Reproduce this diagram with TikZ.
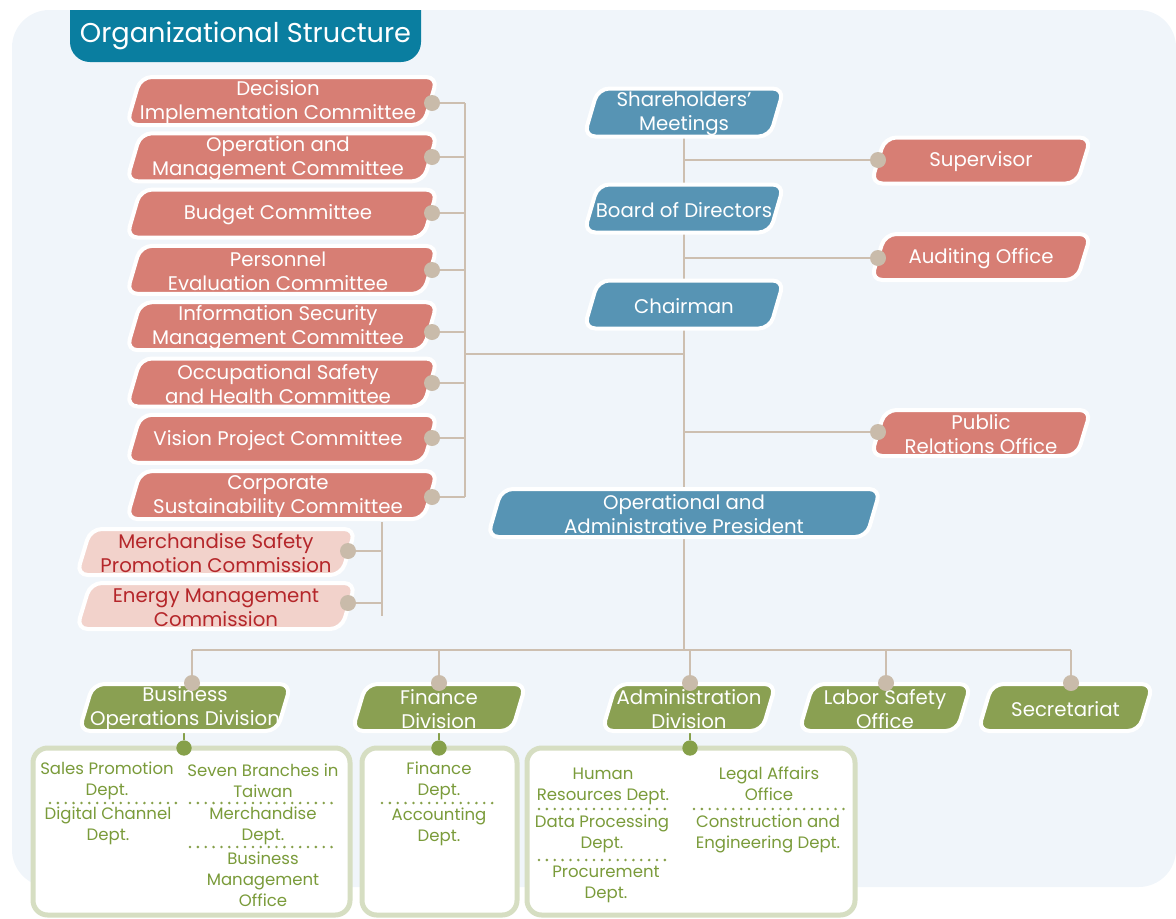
\documentclass[tikz,border=0pt]{standalone}
\usepackage{fontspec}
\setmainfont{Poppins}
\usetikzlibrary{calc}

\definecolor{panel}{HTML}{F0F5FA}
\definecolor{titleblue}{HTML}{0A7EA0}
\definecolor{boxblue}{HTML}{5794B4}
\definecolor{boxred}{HTML}{D77E74}
\definecolor{boxpink}{HTML}{F2D2CB}
\definecolor{pinktext}{HTML}{B5262A}
\definecolor{boxgreen}{HTML}{8AA052}
\definecolor{linebeige}{HTML}{CDBFB0}
\definecolor{dotbeige}{HTML}{C9BBAA}
\definecolor{subborder}{HTML}{D6DEC2}
\definecolor{subtext}{HTML}{7A9B3A}
\definecolor{subdots}{HTML}{86A04A}
\definecolor{olive}{HTML}{86A04A}

\pgfdeclarelayer{panel}
\pgfdeclarelayer{links}
\pgfsetlayers{panel,links,main}

% half of the horizontal lean of a slanted plate (in px)
\def\skw{7}

% slanted rounded plate with a named text node on top
% #1 name, #2 cx, #3 cy, #4 width, #5 height, #6 plate style, #7 text style, #8 text
\newcommand{\slbox}[8]{%
  \pgfmathsetmacro\sxa{#2-#4/2}\pgfmathsetmacro\sxb{#2+#4/2}%
  \pgfmathsetmacro\sya{#3-#5/2}\pgfmathsetmacro\syb{#3+#5/2}%
  \path[#6] (\sxa+\skw,\sya) -- (\sxb+\skw,\sya) -- (\sxb-\skw,\syb) -- (\sxa-\skw,\syb) -- cycle;%
  \node[#7] (#1) at (#2,#3+1.5) {#8};%
}

\begin{document}
\begin{tikzpicture}[x=0.75pt,y=-0.75pt,
  plate/.style={fill=#1, draw=white, line width=3pt, rounded corners=8.5pt},
  wtxt/.style={text=white, align=center, inner sep=0pt, font=\fontsize{14.8}{18}\selectfont},
  ctxt/.style={wtxt, xshift=-3pt},
  ptxt/.style={wtxt, text=pinktext},
  link/.style={draw=linebeige, line width=2.2pt},
  olink/.style={draw=olive, line width=2.2pt},
  bdot/.style={circle, fill=dotbeige, inner sep=0pt, minimum size=12pt},
  odot/.style={circle, fill=olive, inner sep=0pt, minimum size=11.5pt},
  subframe/.style={draw=subborder, fill=white, line width=3.75pt, rounded corners=11pt},
  stxt/.style={text=subtext, align=center, inner sep=0pt, font=\fontsize{12.4}{15.75}\selectfont},
  dotrule/.style={draw=subdots, line width=2.1pt, line cap=round, dash pattern=on 0pt off 5.9pt},
]
\useasboundingbox (0,0) rectangle (1176,918);

% backdrop panel
\begin{pgfonlayer}{panel}
  \fill[panel, rounded corners=28pt] (12,10) rectangle (1176,887);
\end{pgfonlayer}

% title tab
\begin{scope}
  \clip (70,10) rectangle (421,62);
  \fill[titleblue, rounded corners=15pt] (70,-30) rectangle (421,62);
\end{scope}
\node[wtxt, font=\fontsize{20.4}{24}\selectfont] (title) at (245.5,36) {Organizational Structure};

% committees
\slbox{decision}{282}{101}{297}{48}{plate=boxred}{ctxt}{Decision\\Implementation Committee}
\slbox{operation}{282}{157.3}{297}{48}{plate=boxred}{ctxt}{Operation and\\Management Committee}
\slbox{budget}{282}{213.6}{297}{48}{plate=boxred}{ctxt}{Budget Committee}
\slbox{personnel}{282}{269.9}{297}{48}{plate=boxred}{ctxt}{Personnel\\Evaluation Committee}
\slbox{infosec}{282}{326.2}{297}{48}{plate=boxred}{ctxt}{Information Security\\Management Committee}
\slbox{occsafety}{282}{382.5}{297}{48}{plate=boxred}{ctxt}{Occupational Safety\\and Health Committee}
\slbox{vision}{282}{438.8}{297}{48}{plate=boxred}{ctxt}{Vision Project Committee}
\slbox{corporate}{282}{495.1}{297}{48}{plate=boxred}{ctxt}{Corporate\\Sustainability Committee}

% commissions
\slbox{merch}{216}{552}{265}{46}{plate=boxpink}{ptxt}{Merchandise Safety\\Promotion Commission}
\slbox{energy}{216}{606}{265}{46}{plate=boxpink}{ptxt}{Energy Management\\Commission}

% governance chain
\slbox{share}{684}{112.5}{186}{48}{plate=boxblue}{wtxt}{Shareholders’\\Meetings}
\slbox{board}{684}{208.5}{186}{48}{plate=boxblue}{wtxt}{Board of Directors}
\slbox{chairman}{684}{304.5}{186}{48}{plate=boxblue}{wtxt}{Chairman}
\slbox{president}{684}{513}{379}{48}{plate=boxblue}{wtxt}{Operational and\\Administrative President}

% offices on the right
\slbox{supervisor}{981}{160.5}{206}{46}{plate=boxred}{wtxt}{Supervisor}
\slbox{auditing}{981}{257}{206}{46}{plate=boxred}{wtxt}{Auditing Office}
\slbox{publicrel}{981}{433}{206}{46}{plate=boxred}{wtxt}{Public\\Relations Office}

% divisions
\slbox{bizop}{185}{707.5}{198}{47}{plate=boxgreen}{wtxt}{Business\\Operations Division}
\slbox{finance}{439}{707.5}{160}{47}{plate=boxgreen}{wtxt}{Finance\\Division}
\slbox{admin}{689}{707.5}{160}{47}{plate=boxgreen}{wtxt}{Administration\\Division}
\slbox{labor}{885}{707.5}{158}{47}{plate=boxgreen}{wtxt}{Labor Safety\\Office}
\slbox{secretariat}{1065.5}{707.5}{161}{47}{plate=boxgreen}{wtxt}{Secretariat}

% department frames
\draw[subframe] (33,748) rectangle (350,915);
\draw[subframe] (362,748) rectangle (517,915);
\draw[subframe] (527,748) rectangle (855,915);

% departments of the business operations division
\node[stxt] (salesprom) at (107,781) {Sales Promotion\\Dept.};
\node[stxt] (branches) at (263,781) {Seven Branches in\\Taiwan};
\node[stxt] (digital) at (108,826) {Digital Channel\\Dept.};
\node[stxt] (merchdept) at (263,826) {Merchandise\\Dept.};
\node[stxt] (bizmgmt) at (263,879) {Business\\Management\\Office};
\coordinate (r1a) at (50,803);  \coordinate (r1b) at (176,803);
\coordinate (r2a) at (190,803); \coordinate (r2b) at (338,803);
\coordinate (r3a) at (190,847); \coordinate (r3b) at (338,847);
\draw[dotrule] (r1a) -- (r1b);
\draw[dotrule] (r2a) -- (r2b);
\draw[dotrule] (r3a) -- (r3b);

% departments of the finance division
\node[stxt] (findept) at (439,781) {Finance\\Dept.};
\node[stxt] (accounting) at (439,827) {Accounting\\Dept.};
\coordinate (r4a) at (382,803); \coordinate (r4b) at (496,803);
\draw[dotrule] (r4a) -- (r4b);

% departments of the administration division
\node[stxt] (hr) at (603,786) {Human\\Resources Dept.};
\node[stxt] (legal) at (769,784) {Legal Affairs\\Office};
\node[stxt] (dataproc) at (602,834) {Data Processing\\Dept.};
\node[stxt] (construct) at (768,834) {Construction and\\Engineering Dept.};
\node[stxt] (procure) at (606,884) {Procurement\\Dept.};
\coordinate (r5a) at (539,809); \coordinate (r5b) at (672,809);
\coordinate (r6a) at (694,809); \coordinate (r6b) at (845,809);
\coordinate (r7a) at (539,860); \coordinate (r7b) at (672,860);
\draw[dotrule] (r5a) -- (r5b);
\draw[dotrule] (r6a) -- (r6b);
\draw[dotrule] (r7a) -- (r7b);

% junction dots
\node[bdot] (dDec) at (432,103) {};
\node[bdot] (dOpe) at (432,157) {};
\node[bdot] (dBud) at (432,213) {};
\node[bdot] (dPer) at (432,270) {};
\node[bdot] (dInf) at (432,332) {};
\node[bdot] (dOcc) at (432,383) {};
\node[bdot] (dVis) at (432,438) {};
\node[bdot] (dCor) at (432,497) {};
\node[bdot] (dMer) at (348,551) {};
\node[bdot] (dEne) at (348,603) {};
\node[bdot] (dSup) at (878,160) {};
\node[bdot] (dAud) at (878,258) {};
\node[bdot] (dPub) at (878,432) {};
\node[bdot] (gBiz) at (192,683) {};
\node[bdot] (gFin) at (439,683) {};
\node[bdot] (gAdm) at (690,683) {};
\node[bdot] (gLab) at (886,683) {};
\node[bdot] (gSec) at (1071,683) {};
\node[odot] (oBiz) at (184,748) {};
\node[odot] (oFin) at (439,748) {};
\node[odot] (oAdm) at (690,748) {};

% bus points
\coordinate (LbusT) at (465,103);
\coordinate (LbusB) at (465,497);
\coordinate (Ljoin) at (465,354);
\coordinate (PbusT) at (382,522);
\coordinate (PbusB) at (382,616);
\coordinate (spineB) at (684,650);
\coordinate (BbusL) at (192,650);
\coordinate (BbusR) at (1071,650);

\begin{pgfonlayer}{links}
  % committee bus
  \draw[link] (LbusT) -- (LbusB);
  \foreach \d in {dDec,dOpe,dBud,dPer,dInf,dOcc,dVis,dCor}
    \draw[link] (\d) -- (\d -| LbusT);
  \draw[link] (Ljoin) -- (Ljoin -| share);
  % commission bus
  \draw[link] (PbusT) -- (PbusB);
  \foreach \d in {dMer,dEne}
    \draw[link] (\d) -- (\d -| PbusT);
  % main spine and side offices
  \draw[link] (share) -- (spineB);
  \foreach \d in {dSup,dAud,dPub}
    \draw[link] (\d) -- (\d -| share);
  % division bus
  \draw[link] (BbusL) -- (BbusR);
  \foreach \d in {gBiz,gFin,gAdm,gLab,gSec}
    \draw[link] (\d) -- (\d |- BbusL);
  % divisions to department frames
  \draw[olink] (oBiz) -- (oBiz |- bizop);
  \draw[olink] (oFin) -- (oFin |- finance);
  \draw[olink] (oAdm) -- (oAdm |- admin);
\end{pgfonlayer}
\end{tikzpicture}
\end{document}
